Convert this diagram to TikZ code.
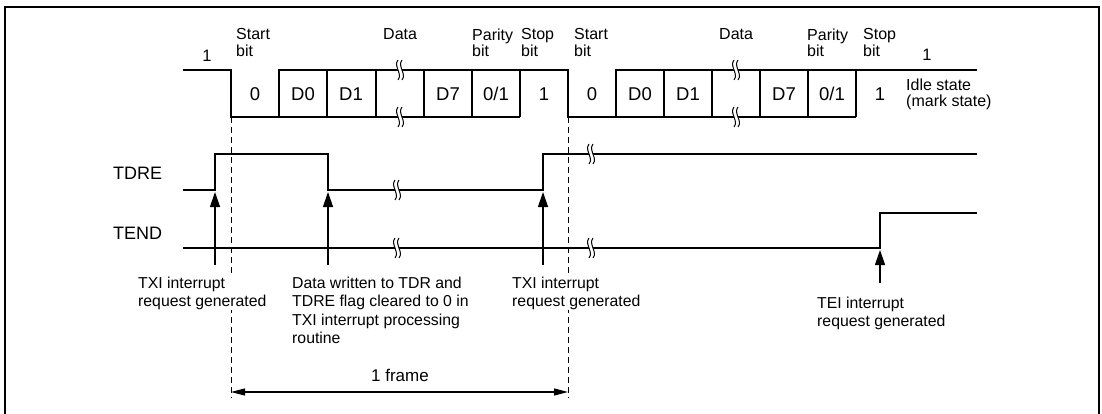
\documentclass[tikz,border=0pt]{standalone}
\usepackage{fontspec}
\setmainfont{Liberation Sans}
\usetikzlibrary{arrows.meta}
\begin{document}
\begin{tikzpicture}[x=1pt,y=-1pt,
  wave/.style={line width=2.4pt},
  guide/.style={line width=0.9pt, dash pattern=on 6pt off 4pt},
  evarrow/.style={line width=1.3pt, -{Triangle[length=15pt,width=10pt]}},
  frarrow/.style={line width=1.3pt, {Triangle[length=14pt,width=7pt]}-{Triangle[length=14pt,width=7pt]}},
  lbl/.style={font=\fontsize{15.8}{18.4}\selectfont, align=left, inner sep=0pt, anchor=north west},
  toplbl/.style={font=\fontsize{16}{16.7}\selectfont, align=left, inner sep=0pt, anchor=north west},
  cell/.style={font=\fontsize{18.5}{20}\selectfont, inner sep=0pt, anchor=base},
  sig/.style={font=\fontsize{18}{20}\selectfont, inner sep=0pt, anchor=base west},
  brk/.pic={
    \fill[white] (-2,-10) .. controls (-7,-4) and (3,4) .. (-2,10) -- (2,10) .. controls (7,4) and (-3,-4) .. (2,-10) -- cycle;
    \draw[line width=1pt] (-2,-10) .. controls (-7,-4) and (3,4) .. (-2,10);
    \draw[line width=1pt] (2,-10) .. controls (-3,-4) and (7,4) .. (2,10);
  }
]
\useasboundingbox (0,0) rectangle (1102,414);
% frame
\draw[line width=2pt] (5,430) -- (5,7) -- (1099,7) -- (1099,430);

% top waveform
\draw[wave] (183,70) -- (231,70) -- (231,117) -- (520,117);
\draw[wave] (279,117) -- (279,70) -- (568,70) -- (568,117) -- (856,117);
\draw[wave] (616,117) -- (616,70) -- (977,70);
\foreach \x in {327,376,424,472,520,664,712,760,808,856}
  \draw[wave] (\x,70) -- (\x,117);
\foreach \x in {400,736} {
  \pic at (\x,70) {brk};
  \pic at (\x,117) {brk};
}

% TDRE / TEND
\draw[wave] (183,190) -- (215,190) -- (215,154) -- (328,154) -- (328,190) -- (543,190) -- (543,154) -- (977,154);
\draw[wave] (183,248) -- (880,248) -- (880,213) -- (977,213);
\pic at (397,190) {brk};
\pic at (397,248) {brk};
\pic at (591,154) {brk};
\pic at (591,248) {brk};

% dashed guides
\coordinate (g1t) at (231,117);
\coordinate (g1b) at (231,398);
\coordinate (g2t) at (568,117);
\coordinate (g2b) at (568,398);
\draw[guide] (g1t) -- (g1b);
\draw[guide] (g2t) -- (g2b);

% frame arrow
\coordinate (f1) at (231,392);
\coordinate (f2) at (568,392);
\draw[frarrow] (f1) -- (f2);
\node[font=\fontsize{17}{19}\selectfont, inner sep=0pt, anchor=base] (frame) at (400,381.7) {1 frame};

% event arrows
\coordinate (a1b) at (215,265); \coordinate (a1t) at (215,192);
\coordinate (a2b) at (328,265); \coordinate (a2t) at (328,192);
\coordinate (a3b) at (543,265); \coordinate (a3t) at (543,192);
\coordinate (a4b) at (880,283); \coordinate (a4t) at (880,250);
\draw[evarrow] (a1b) -- (a1t);
\draw[evarrow] (a2b) -- (a2t);
\draw[evarrow] (a3b) -- (a3t);
\draw[evarrow] (a4b) -- (a4t);

% top labels
\node[toplbl] (sb1) at (236,28.3) {Start\\bit};
\node[toplbl] (sb2) at (574,28.3) {Start\\bit};
\node[toplbl, anchor=base west] (da1) at (383,40) {Data};
\node[toplbl, anchor=base west] (da2) at (719,40) {Data};
\node[toplbl] (pb1) at (472,28.3) {Parity\\bit};
\node[toplbl] (pb2) at (807,28.3) {Parity\\bit};
\node[toplbl] (st1) at (521,28.3) {Stop\\bit};
\node[toplbl] (st2) at (863,28.3) {Stop\\bit};
\node[font=\fontsize{16.5}{18}\selectfont, inner sep=0pt, anchor=base] (one1) at (207,61.5) {1};
\node[font=\fontsize{16.5}{18}\selectfont, inner sep=0pt, anchor=base] (one2) at (927,61) {1};
\node[toplbl] (idle) at (906,78.3) {Idle state\\(mark state)};

% cell labels
\node[cell] (c0a) at (255,100.7) {0};
\node[cell] (c1a) at (303,100.7) {D0};
\node[cell] (c2a) at (351,100.7) {D1};
\node[cell] (c3a) at (448,100.7) {D7};
\node[cell] (c4a) at (496,100.7) {0/1};
\node[cell] (c5a) at (544,100.7) {1};
\node[cell] (c0b) at (592,100.7) {0};
\node[cell] (c1b) at (640,100.7) {D0};
\node[cell] (c2b) at (688,100.7) {D1};
\node[cell] (c3b) at (784,100.7) {D7};
\node[cell] (c4b) at (832,100.7) {0/1};
\node[cell] (c5b) at (880,100.7) {1};

% signal names
\node[sig] (tdre) at (113,179.3) {TDRE};
\node[sig] (tend) at (113,239) {TEND};

% bottom labels
\node[lbl, fill=white] (txi1) at (138,276.8) {TXI interrupt\\request generated};
\node[lbl] (dw) at (292,276.8) {Data written to TDR and\\TDRE flag cleared to 0 in\\TXI interrupt processing\\routine};
\node[lbl, fill=white] (txi2) at (512,276.8) {TXI interrupt\\request generated};
\node[lbl] (tei) at (817,296.8) {TEI interrupt\\request generated};
\end{tikzpicture}
\end{document}
